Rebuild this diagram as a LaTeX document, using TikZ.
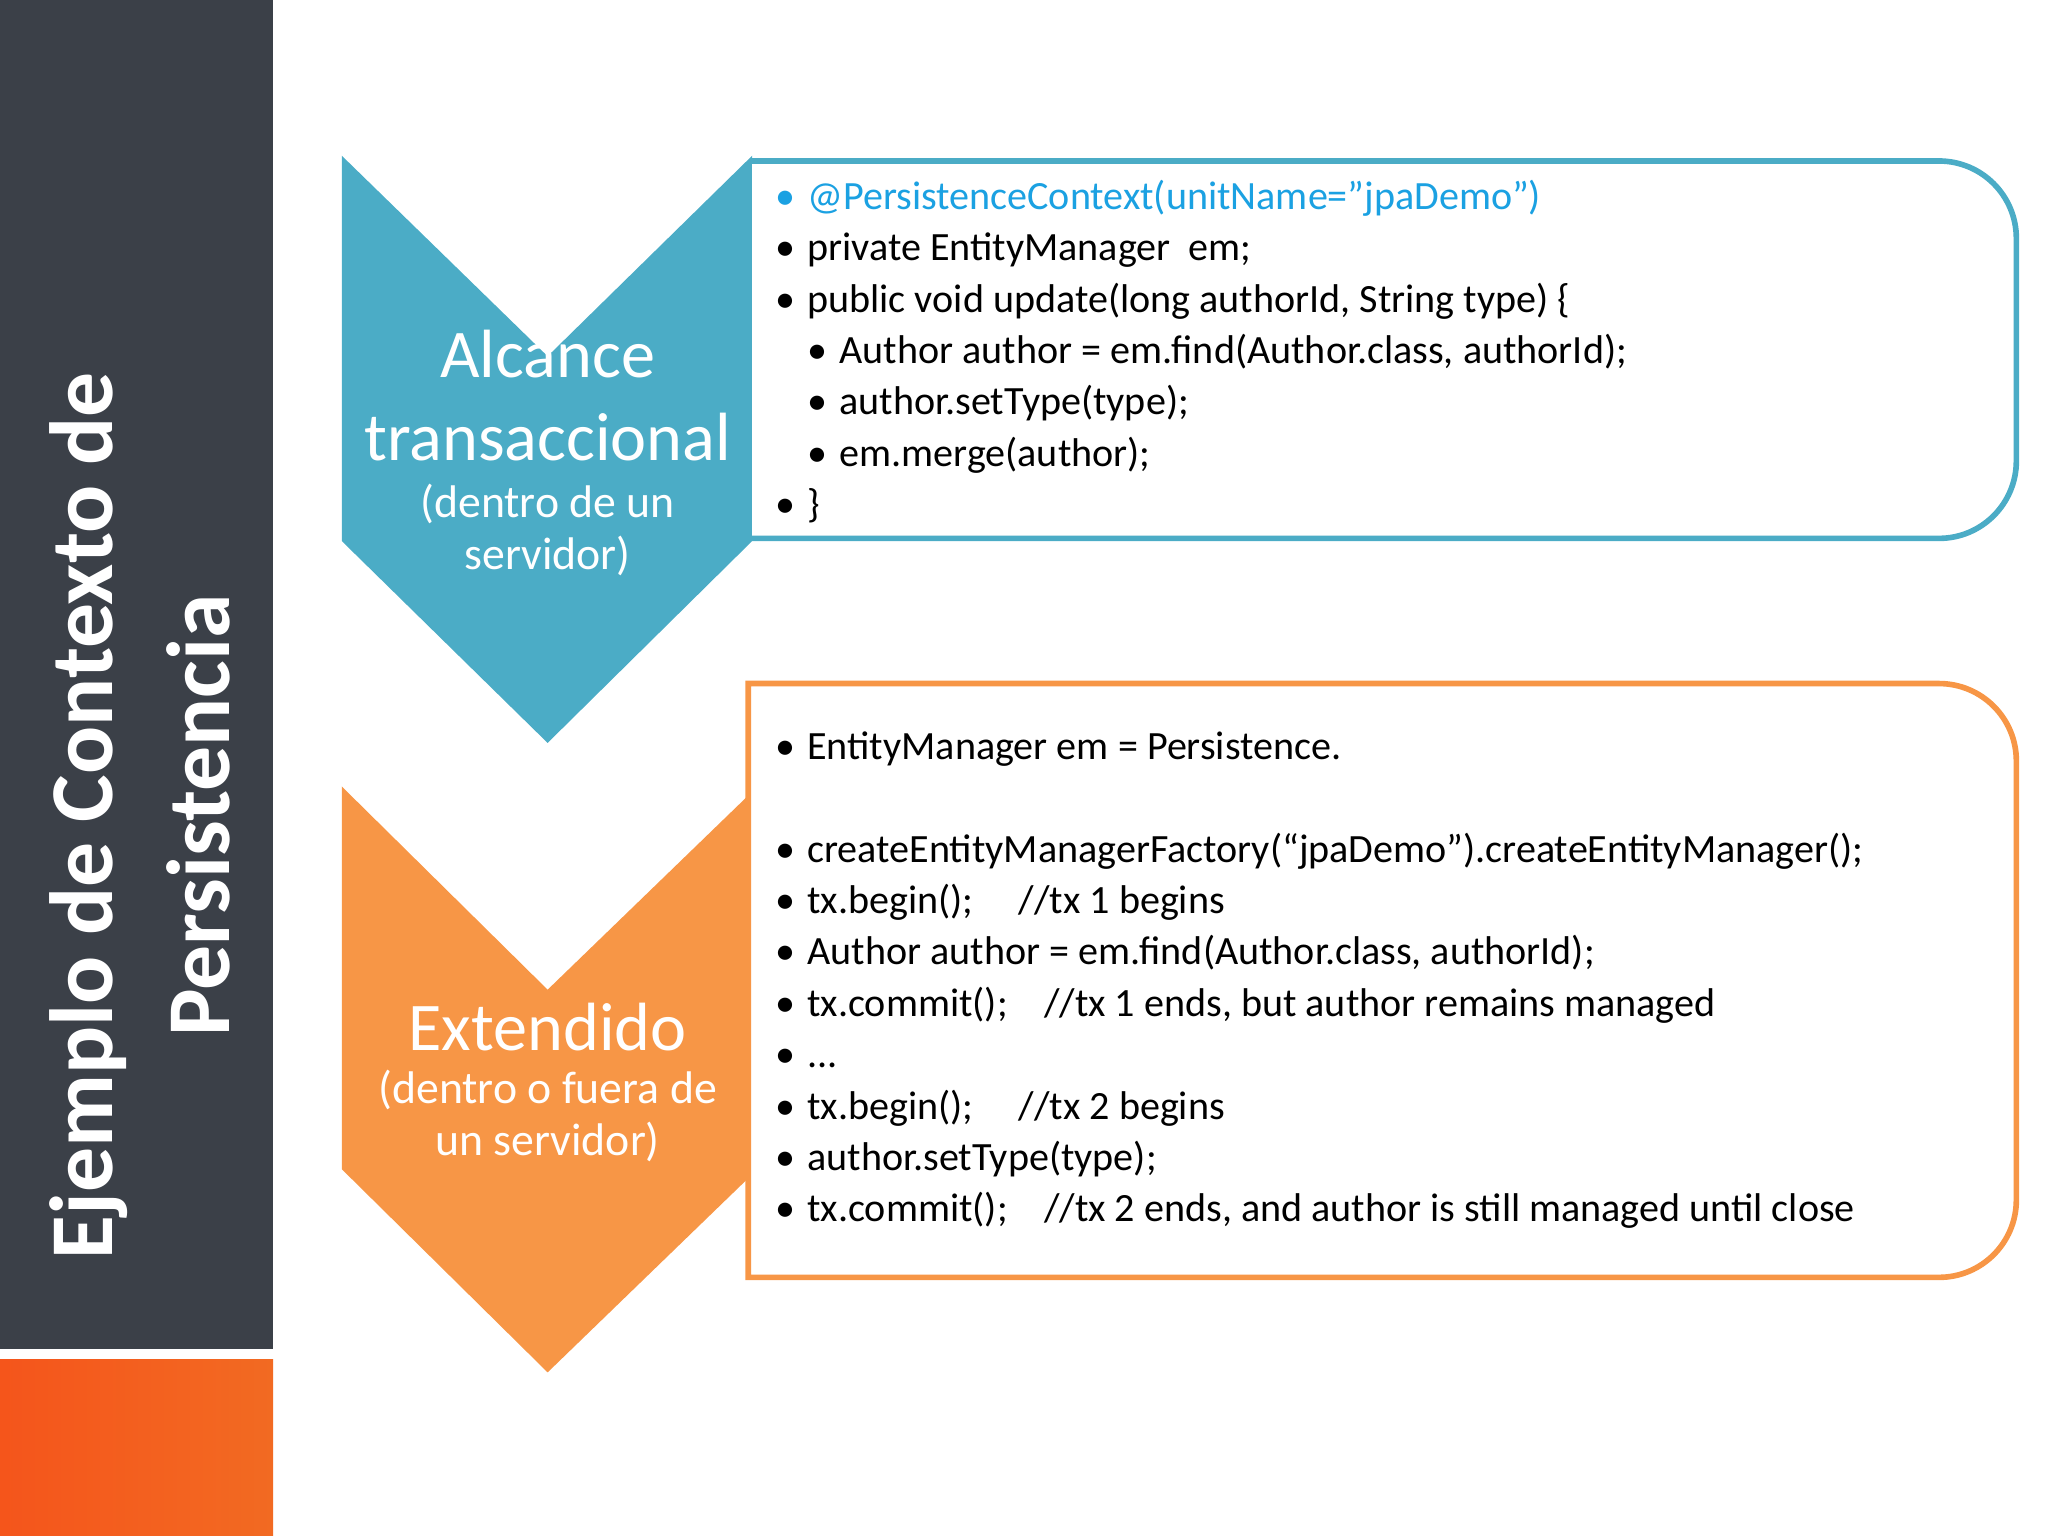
\documentclass[tikz,border=0pt]{standalone}
\usepackage{fontspec}
\setmainfont{Carlito}
\usetikzlibrary{positioning}
\definecolor{slate}{HTML}{3B4048}
\definecolor{accblue}{HTML}{4BACC6}
\definecolor{accorange}{HTML}{F79646}
\definecolor{deeporange}{HTML}{F26A22}
\definecolor{linkblue}{HTML}{1BA1E2}
\newcommand{\bl}{\makebox[0.8em][l]{\textbullet}}
\newcommand{\sbl}{\hspace*{0.8em}\bl}
\tikzset{
  chevron/.style={fill=#1, draw=none},
  codebox/.style={draw=#1, line width=1.6pt, fill=white},
  code/.style={anchor=north west, align=left, inner sep=0pt,
    font=\fontsize{11.4pt}{14.6pt}\selectfont},
  label/.style={text=white, align=center, inner sep=0pt},
}
\begin{document}
\begin{tikzpicture}[x=0.01319cm,y=-0.01319cm]
  \useasboundingbox (0,0) rectangle (1552,1164);
  % side bar
  \fill[slate] (0,0) rectangle (207,1022);
  \shade[left color=deeporange!80!red, right color=deeporange] (0,1030) rectangle (207,1164);
  \node[label, rotate=90, font=\bfseries\fontsize{25.5pt}{33pt}\selectfont] (title) at (106,618)
    {Ejemplo de Contexto de\\Persistencia};
  % chevrons
  \fill[chevron=accblue] (259,118) -- (415,270) -- (570,118) -- (570,410) -- (415,563) -- (259,410) -- cycle;
  \fill[chevron=accorange] (259,596) -- (415,750) -- (570,600) -- (570,890) -- (415,1040) -- (259,886) -- cycle;
  % boxes
  \draw[codebox=accblue] (570,122) [rounded corners=22pt] -- (1528,122) -- (1528,408) [sharp corners] -- (570,408);
  \draw[codebox=accorange] (567,968) -- (567,518) [rounded corners=22pt] -- (1528,518) -- (1528,968) [sharp corners] -- cycle;
  % chevron labels
  \node[label, font=\fontsize{19.4pt}{23.6pt}\selectfont] (scope) at (415,300) {Alcance\\transaccional};
  \node[label, font=\fontsize{13pt}{14.8pt}\selectfont, below=6pt of scope] (scopesub) {(dentro de un\\servidor)};
  \node[label, font=\fontsize{19.4pt}{23.6pt}\selectfont] (ext) at (415,778) {Extendido};
  \node[label, font=\fontsize{13pt}{14.8pt}\selectfont, below=5pt of ext] (extsub) {(dentro o fuera de\\un servidor)};
  % code
  \node[code] (txcode) at (587,136) {%
    \textcolor{linkblue}{\bl@PersistenceContext(unitName=”jpaDemo”)}\\
    \bl private EntityManager\ \ em;\\
    \bl public void update(long authorId, String type) \{\\
    \sbl Author author = em.find(Author.class, authorId);\\
    \sbl author.setType(type);\\
    \sbl em.merge(author);\\
    \bl \}};
  \node[code] (extcode) at (587,554) {%
    \bl EntityManager em = Persistence.\\[14.6pt]
    \bl createEntityManagerFactory(“jpaDemo”).createEntityManager();\\
    \bl tx.begin();\ \ \ \ \ //tx 1 begins\\
    \bl Author author = em.find(Author.class, authorId);\\
    \bl tx.commit();\ \ \ \ //tx 1 ends, but author remains managed\\
    \bl ...\\
    \bl tx.begin();\ \ \ \ \ //tx 2 begins\\
    \bl author.setType(type);\\
    \bl tx.commit();\ \ \ \ //tx 2 ends, and author is still managed until close};
\end{tikzpicture}
\end{document}
